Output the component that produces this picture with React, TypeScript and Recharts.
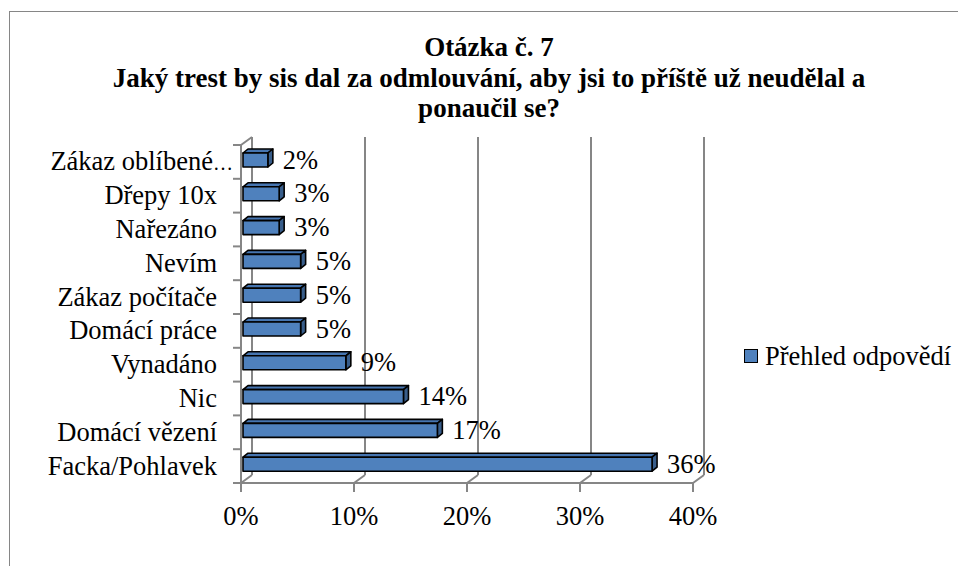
import { BarChart, Bar, XAxis, YAxis, CartesianGrid, LabelList } from 'recharts';

const categories = [
  'Zákaz oblíbené…',
  'Dřepy 10x',
  'Nařezáno',
  'Nevím',
  'Zákaz počítače',
  'Domácí práce',
  'Vynadáno',
  'Nic',
  'Domácí vězení',
  'Facka/Pohlavek',
];
const shares = [2.2, 3.2, 3.2, 5.1, 5.1, 5.1, 9.1, 14.2, 17.2, 36.2];
const xTicks = [0, 10, 20, 30, 40];
const seriesName = 'Přehled odpovědí';
const titleLines = [
  'Otázka č. 7',
  'Jaký trest by sis dal za odmlouvání, aby jsi to příště už neudělal a',
  'ponaučil se?',
];

const data = categories.map((name, i) => ({ name, value: shares[i] }));

// layout (px)
const W = 948;
const H = 554;
const PLOT_TOP = 133;
const PLOT_H = 338;
const BAND = PLOT_H / categories.length;
const DX = 11; // depth of the back wall
const DY = 8;
const BAR_DX = 5; // depth of each bar
const BAR_DY = 4;
const SHIFT = 2;

const FONT = "'Liberation Serif', 'Times New Roman', serif";
const FS = 26.5;
const GRID = '#868686';
const BLUE = '#4F81BD';

const Bar3D = (props: any) => {
  const { x, y, width, height } = props;
  if (!width || width <= 0) return null;
  const fx = x + SHIFT;
  const fy = y - SHIFT;
  const top = `${fx},${fy} ${fx + BAR_DX},${fy - BAR_DY} ${fx + width + BAR_DX},${fy - BAR_DY} ${fx + width},${fy}`;
  const side = `${fx + width},${fy} ${fx + width + BAR_DX},${fy - BAR_DY} ${fx + width + BAR_DX},${fy + height - BAR_DY} ${fx + width},${fy + height}`;
  return (
    <g stroke="#000" strokeWidth={1.6} strokeLinejoin="round">
      <polygon points={top} fill="#4675B0" />
      <polygon points={side} fill="#385D8A" />
      <rect x={fx} y={fy} width={width} height={height} fill={BLUE} />
    </g>
  );
};

const renderLabel = (props: any) => {
  const { x, y, width, height, value } = props;
  return (
    <text
      x={x + width + SHIFT + 15}
      y={y - SHIFT + height / 2}
      dy={8.5}
      fontFamily={FONT}
      fontSize={FS}
      fill="#000"
    >
      {`${Math.round(value)}%`}
    </text>
  );
};

const XTick = (props: any) => {
  const { x, y, payload, index } = props;
  return (
    <g>
      <line x1={x} y1={y} x2={x} y2={y + 9} stroke={GRID} strokeWidth={2} />
      <line x1={x} y1={y} x2={x + DX} y2={y - DY} stroke={GRID} strokeWidth={2} />
      {index === 0 && (
        <line x1={x} y1={y - PLOT_H} x2={x + DX} y2={y - PLOT_H - DY} stroke={GRID} strokeWidth={2} />
      )}
      <text x={x} y={y + 42} textAnchor="middle" fontFamily={FONT} fontSize={FS} fill="#000">
        {`${payload.value}%`}
      </text>
    </g>
  );
};

const YTick = (props: any) => {
  const { x, y, payload, index } = props;
  const label: string = payload.value;
  const cut = label.endsWith('…');
  const last = index === categories.length - 1;
  return (
    <g>
      <line x1={x - 8} y1={y - BAND / 2} x2={x} y2={y - BAND / 2} stroke={GRID} strokeWidth={2} />
      {last && <line x1={x - 8} y1={y + BAND / 2} x2={x} y2={y + BAND / 2} stroke={GRID} strokeWidth={2} />}
      <text x={x - (cut ? 28 : 24)} y={y} dy={8.5} textAnchor="end" fontFamily={FONT} fontSize={FS} fill="#000">
        {cut ? label.slice(0, -1) : label}
      </text>
      {cut && (
        <text x={x - 28} y={y} dy={8.5} fontFamily={FONT} fontSize={20} fill="#000">
          …
        </text>
      )}
    </g>
  );
};

export default function App() {
  return (
    <div
      style={{
        position: 'absolute',
        left: 9,
        top: 11,
        width: W,
        height: H,
        borderLeft: `1px solid ${GRID}`,
        borderTop: `1px solid ${GRID}`,
        background: '#fff',
        fontFamily: FONT,
      }}
    >
      <div
        style={{
          position: 'absolute',
          left: 0,
          top: 20,
          width: 958,
          textAlign: 'center',
          fontSize: 27,
          fontWeight: 'bold',
          lineHeight: '30.5px',
          color: '#000',
          whiteSpace: 'nowrap',
        }}
      >
        {titleLines.map((t) => (
          <div key={t}>{t}</div>
        ))}
      </div>

      <div style={{ position: 'absolute', left: 0, top: 0 }}>
        <BarChart
          width={W}
          height={H}
          data={data}
          layout="vertical"
          margin={{ top: PLOT_TOP, right: 265, bottom: 43, left: 10 }}
        >
          <CartesianGrid
            horizontal={false}
            y={PLOT_TOP - DY}
            height={PLOT_H}
            stroke={GRID}
            strokeWidth={2}
            verticalCoordinatesGenerator={({ xAxis, offset }: any) =>
              xTicks.map((t) => {
                const base =
                  xAxis && typeof xAxis.scale === 'function'
                    ? xAxis.scale(t)
                    : offset.left + (t / 40) * offset.width;
                return base + DX;
              })
            }
          />
          <XAxis
            type="number"
            domain={[0, 40]}
            ticks={xTicks}
            height={40}
            tickSize={0}
            tickMargin={0}
            tick={<XTick />}
            axisLine={{ stroke: GRID, strokeWidth: 2 }}
          />
          <YAxis
            type="category"
            dataKey="name"
            width={221}
            interval={0}
            tickSize={0}
            tickMargin={0}
            tick={<YTick />}
            axisLine={{ stroke: GRID, strokeWidth: 2 }}
          />
          <Bar dataKey="value" barSize={14} fill={BLUE} shape={<Bar3D />} isAnimationActive={false}>
            <LabelList dataKey="value" content={renderLabel} />
          </Bar>
        </BarChart>
      </div>

      <div style={{ position: 'absolute', left: 734, top: 329, height: 30, whiteSpace: 'nowrap' }}>
        <span
          style={{
            position: 'absolute',
            left: 0,
            top: 8,
            width: 12,
            height: 12,
            background: BLUE,
            border: '1.5px solid #000',
          }}
        />
        <span style={{ position: 'absolute', left: 21, top: 0, fontSize: FS, lineHeight: '30px', color: '#000' }}>
          {seriesName}
        </span>
      </div>
    </div>
  );
}
